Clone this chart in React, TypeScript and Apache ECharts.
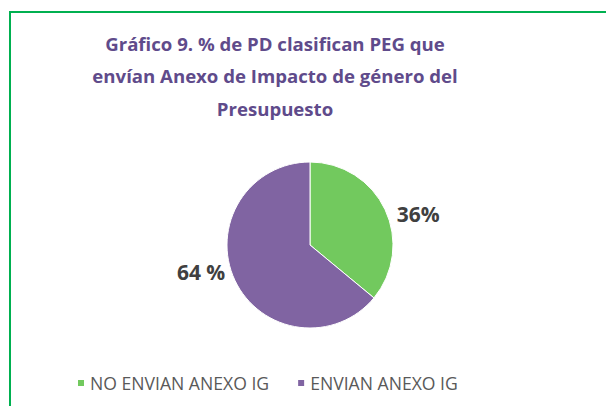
import React, { useEffect, useRef } from "react";
import * as echarts from "echarts";

const categories = ["NO ENVIAN ANEXO IG", "ENVIAN ANEXO IG"];
const values = [36, 64];
const valueLabels = ["36%", "64 %"];
const colors = ["#72C95E", "#8064A2"];
const titleText = "Gráfico 9. % de PD clasifican PEG que\nenvían Anexo de Impacto de género del\nPresupuesto";
const labelShift = [
  [8, 6],
  [-6, -10],
];

export default function App() {
  const ref = useRef<HTMLDivElement>(null);
  useEffect(() => {
    const chart = echarts.init(ref.current!, null, { renderer: "svg" });
    chart.setOption({
      animation: false,
      backgroundColor: "#ffffff",
      title: {
        text: titleText,
        left: 270,
        top: 22,
        textAlign: "center",
        textStyle: {
          fontFamily: "Open Sans",
          fontWeight: "bold",
          fontSize: 18.6,
          lineHeight: 32.5,
          color: "#5F4B8B",
        },
      },
      graphic: [
        {
          type: "rect",
          shape: { x: 10, y: 12, width: 620, height: 420 },
          style: { fill: "none", stroke: "#00B050", lineWidth: 2 },
          silent: true,
          z: -1,
        },
      ],
      legend: {
        data: categories,
        bottom: 9,
        left: 71,
        icon: "rect",
        itemWidth: 8,
        itemHeight: 8,
        itemGap: 27,
        textStyle: { fontFamily: "Open Sans", fontSize: 17.6, color: "#595959" },
      },
      series: [
        {
          type: "pie",
          center: [310, 245],
          radius: 83,
          startAngle: 90,
          clockwise: true,
          itemStyle: { borderColor: "#ffffff", borderWidth: 1 },
          label: {
            show: true,
            position: "outside",
            formatter: (p: any) => valueLabels[p.dataIndex],
            fontFamily: "Open Sans",
            fontWeight: "bold",
            fontSize: 21,
            color: "#404040",
            distanceToLabelLine: 0,
          },
          labelLine: { show: false, length: 4, length2: 0 },
          labelLayout: (p: any) => ({ dx: labelShift[p.dataIndex][0], dy: labelShift[p.dataIndex][1] }),
          data: categories.map((c, i) => ({
            name: c,
            value: values[i],
            itemStyle: { color: colors[i] },
          })),
        },
      ],
    });
    return () => chart.dispose();
  }, []);
  return <div ref={ref} style={{ width: 606, height: 406, position: "absolute", left: 0, top: 0 }} />;
}
